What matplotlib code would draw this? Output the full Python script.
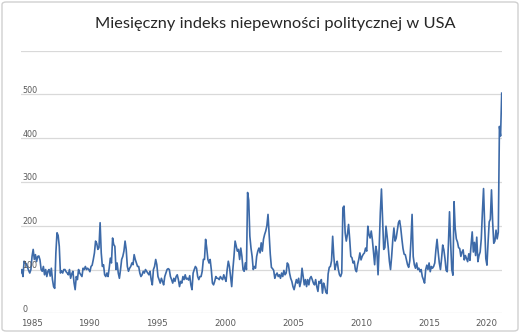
import numpy as np
import matplotlib.pyplot as plt
from matplotlib.patches import FancyBboxPatch
from matplotlib.transforms import blended_transform_factory

# miesięczne wartości indeksu, styczeń 1985 - maj 2020
epu_1985_89 = [92, 100, 84, 119, 115, 113, 105, 98, 92, 100, 130, 146,
               123, 134, 118, 130, 131, 122, 100, 96, 107, 88, 100, 84,
               96, 100, 85, 103, 77, 61, 57, 138, 184, 178, 153, 92,
               97, 92, 100, 100, 95, 92, 88, 100, 80, 90, 96, 70,
               54, 84, 77, 100, 92, 88, 84, 103, 100, 107, 100, 103]
epu_1990s = [100, 95, 107, 110, 123, 138, 165, 160, 146, 150, 207, 138,
             107, 111, 88, 84, 92, 84, 103, 126, 115, 172, 157, 153,
             100, 115, 92, 80, 100, 123, 130, 142, 165, 146, 107, 96,
             103, 107, 115, 111, 134, 123, 115, 107, 107, 92, 84, 88,
             96, 92, 100, 96, 92, 88, 96, 77, 65, 100, 107, 123,
             111, 84, 77, 69, 80, 73, 65, 84, 92, 100, 102, 100,
             84, 77, 69, 80, 73, 84, 88, 77, 61, 73, 69, 84,
             77, 88, 78, 80, 76, 86, 65, 54, 92, 100, 107, 103,
             84, 77, 84, 84, 96, 123, 123, 169, 149, 123, 115, 123,
             100, 69, 65, 73, 84, 80, 80, 77, 84, 80, 77, 88]
epu_2000s = [80, 73, 100, 119, 107, 84, 61, 100, 130, 165, 153, 142,
             146, 123, 149, 130, 100, 96, 115, 100, 276, 258, 176, 149,
             130, 100, 107, 103, 130, 142, 149, 138, 161, 142, 169, 180,
             188, 200, 226, 180, 135, 105, 102, 98, 80, 88, 92, 84,
             88, 80, 92, 84, 98, 88, 92, 115, 111, 92, 80, 73,
             61, 54, 65, 77, 69, 80, 61, 73, 103, 84, 65, 77,
             61, 77, 65, 80, 84, 77, 69, 65, 77, 61, 50, 73,
             69, 77, 46, 69, 61, 48, 45, 90, 105, 107, 120, 176,
             130, 100, 111, 119, 100, 88, 84, 92, 241, 245, 184, 165,
             180, 203, 170, 130, 127, 115, 119, 100, 95, 112, 123, 138]
epu_2010s = [122, 130, 135, 138, 149, 142, 199, 180, 172, 188, 168, 140,
             111, 153, 140, 88, 150, 230, 284, 215, 146, 150, 199, 176,
             150, 119, 100, 130, 168, 195, 165, 172, 190, 207, 212, 195,
             170, 148, 135, 134, 122, 111, 105, 120, 165, 226, 130, 111,
             103, 115, 100, 103, 95, 100, 84, 77, 69, 100, 110, 100,
             115, 95, 107, 103, 107, 115, 145, 169, 140, 115, 100, 125,
             156, 145, 125, 98, 95, 156, 232, 160, 100, 87, 255, 194,
             170, 163, 150, 148, 130, 140, 145, 122, 132, 125, 118, 136,
             121, 156, 186, 140, 162, 132, 174, 118, 132, 140, 170, 232,
             285, 200, 125, 110, 163, 209, 215, 282, 210, 160, 165, 190]
epu_2020 = [170, 185, 427, 405, 503]

start_year = 1985
year_ticks = [1985, 1990, 1995, 2000, 2005, 2010, 2015, 2020]
y_labels = [0, 100, 200, 300, 400, 500]
grid_levels = [0, 100, 200, 300, 400, 500, 600]
title = 'Miesięczny indeks niepewności politycznej w USA'

values = np.array(epu_1985_89 + epu_1990s + epu_2000s + epu_2010s + epu_2020)
t = start_year + np.arange(len(values)) / 12

fig = plt.figure(figsize=(5.2, 3.33), dpi=100)
ax = fig.add_axes([20.7 / 520, 19.7 / 333, 481 / 520, 262.6 / 333])
ax.set_xlim(t[0], t[-1])
ax.set_ylim(0, 600)

for g in grid_levels:
    ax.axhline(g, color='#d9d9d9', lw=0.9, zorder=0)

ax.plot(t, values, color='#3d6aa8', lw=1.2, zorder=3)

for s in ax.spines.values():
    s.set_visible(False)
ax.set_yticks([])
ax.set_xticks(year_ticks)
ax.set_xticklabels([str(y) for y in year_ticks])
ax.tick_params(axis='x', length=0, pad=4, labelsize=6.2, labelcolor='#595959')
lbls = ax.get_xticklabels()
lbls[0].set_horizontalalignment('left')
lbls[-1].set_horizontalalignment('right')

tr = blended_transform_factory(ax.transAxes, ax.transData)
for v in y_labels:
    ax.text(0.003, v + 3.5, str(v), transform=tr, ha='left', va='baseline',
            fontsize=5.8, color='#595959', zorder=4)

fig.text(275 / 520, 1 - 24 / 333, title, ha='center', va='center',
         fontsize=11.8, family=['Lato', 'DejaVu Sans'], color='#262626')

border = FancyBboxPatch((2 / 520, 2 / 333), 516 / 520, 329 / 333,
                        boxstyle='round,pad=0,rounding_size=0.008',
                        transform=fig.transFigure, fill=False,
                        ec='#d0d0d0', lw=1.0)
fig.patches.append(border)

fig.savefig('out.png', dpi=100)
